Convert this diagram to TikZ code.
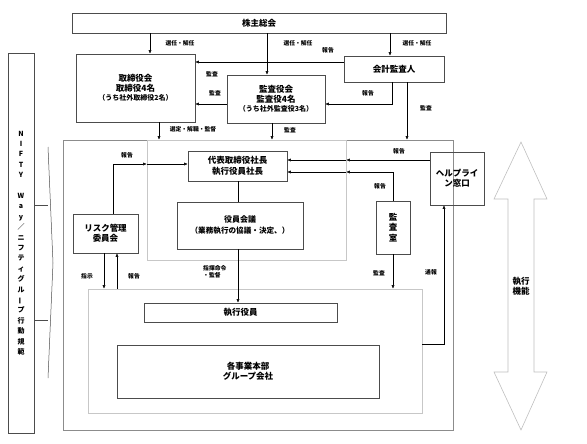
\documentclass[tikz,border=0pt]{standalone}
\usepackage{fontspec}
\setmainfont{Noto Sans CJK JP}
\usetikzlibrary{arrows.meta}
\tikzset{
  box/.style={draw=black!70, line width=0.6pt, inner sep=0pt, align=center, font=\fontsize{8.5}{10}\selectfont\bfseries},
  outerframe/.style={draw=black!45, line width=0.6pt, inner sep=0pt},
  innerframe/.style={draw=black!22, line width=0.6pt, inner sep=0pt},
  lbl/.style={font=\fontsize{5.8}{7}\selectfont\bfseries, inner sep=0pt},
  arr/.style={->, line width=0.5pt}
}
\begin{document}
\begin{tikzpicture}[x=1pt, y=-1pt, >={Latex[length=3.5pt,width=3pt]}]
\useasboundingbox (0,0) rectangle (587,444);
% Draw frames
\node[outerframe, minimum width=390pt, minimum height=290pt] (outer) at (258,285) {};
\node[innerframe, minimum width=199pt, minimum height=120pt] (innertop) at (246.5,200) {};
\node[innerframe, minimum width=334pt, minimum height=124pt] (innerbot) at (255,351) {};
% Draw boxes
\node[box, minimum width=374pt, minimum height=20pt] (soukai) at (259,23) {株主総会};
\node[box, minimum width=119pt, minimum height=68pt, font=\fontsize{8.5}{9.6}\selectfont\bfseries] (torishimari) at (135.5,88)
  {取締役会\\取締役4名\\{\fontsize{7}{9}\selectfont （うち社外取締役2名）}};
\node[box, minimum width=98pt, minimum height=48pt, font=\fontsize{8.5}{9.6}\selectfont\bfseries] (kansayaku) at (276,99)
  {監査役会\\監査役4名\\{\fontsize{7}{9}\selectfont （うち社外監査役3名）}};
\node[box, minimum width=100pt, minimum height=26pt] (kaikei) at (394,69) {会計監査人};
\node[box, minimum width=26pt, minimum height=380pt, font=\fontsize{7}{10.4}\selectfont\bfseries] (nifty) at (21,243)
  {N\\I\\F\\T\\Y\\[10.4pt]W\\a\\y\\／\\ニ\\フ\\テ\\ィ\\グ\\ル\\\rotatebox[origin=c]{90}{ー}\\プ\\行\\動\\規\\範};
\node[box, minimum width=99pt, minimum height=30pt, font=\fontsize{8.5}{11}\selectfont\bfseries] (daihyo) at (237.5,166) {代表取締役社長\\執行役員社長};
\node[box, minimum width=126pt, minimum height=47pt, font=\fontsize{8}{11}\selectfont\bfseries] (kaigi) at (240,225.5) {役員会議\\{\fontsize{7.6}{9}\selectfont （業務執行の協議・決定、）}};
\node[box, minimum width=65pt, minimum height=39pt] (risk) at (105.5,233.5) {リスク管理\\委員会};
\node[box, minimum width=34pt, minimum height=53pt, font=\fontsize{8.5}{10.5}\selectfont\bfseries] (kansashitsu) at (393,227.5) {監\\査\\室};
\node[box, minimum width=54pt, minimum height=53pt] (helpline) at (457,178.5) {ヘルプライ\\ン窓口};
\node[box, minimum width=193pt, minimum height=19pt] (shikko) at (240.5,312.5) {執行役員};
\node[box, minimum width=262pt, minimum height=53pt] (jigyo) at (248,371.5) {各事業本部\\グループ会社};
% Draw big arrow
\draw[draw=black!25, line width=0.6pt] (521,142) -- (547,199) -- (534,199) -- (534,372) -- (547,372) -- (521,430)
  -- (494,372) -- (508,372) -- (508,199) -- (494,199) -- cycle;
\node[box, draw=none] (kinou) at (521,286) {執行\\機能};
% Draw bracket
\coordinate (brtop) at (48,147);
\coordinate (brmid) at (53,263);
\coordinate (brbot) at (48,378);
\draw[black!70, line width=0.5pt] (brtop) -- (brmid) -- (brbot);
\draw[black!70, line width=0.5pt] ([yshift=38pt]nifty.east) -- ([yshift=38pt]nifty.east -| brtop);
\draw[black!70, line width=0.5pt] ([yshift=-77pt]nifty.east) -- ([yshift=-77pt]nifty.east -| brbot);
% Draw arrows from 株主総会
\draw[arr] ([xshift=14.5pt]torishimari.north |- soukai.south) -- ([xshift=14.5pt]torishimari.north);
\draw[arr] ([xshift=-9pt]kansayaku.north |- soukai.south) -- ([xshift=-9pt]kansayaku.north);
\draw[arr] ([xshift=-4pt]kaikei.north |- soukai.south) -- ([xshift=-4pt]kaikei.north);
\node[lbl] (l1) at (180,43) {選任・解任};
\node[lbl] (l2) at (298,43) {選任・解任};
\node[lbl] (l3) at (417,43) {選任・解任};
% Draw audit arrows
\draw[arr] ([yshift=7pt]kaikei.west) -- ([yshift=7pt]kaikei.west -| torishimari.east);
\draw[arr] ([yshift=-5pt]kansayaku.west) -- ([yshift=-5pt]kansayaku.west -| torishimari.east);
\draw[arr] ([xshift=-2pt]kaikei.south) |- ([yshift=-5pt]kansayaku.east);
\draw[arr] ([xshift=13pt]kaikei.south) -- ([xshift=13pt]kaikei.south |- outer.north);
\draw[arr] ([xshift=23.5pt]torishimari.south) -- ([xshift=23.5pt]torishimari.south |- outer.north);
\draw[arr] ([xshift=-4pt]kansayaku.south) -- ([xshift=-4pt]kansayaku.south |- outer.north);
\node[lbl] (l4) at (328,50) {報告};
\node[lbl] (l5) at (212,74) {監査};
\node[lbl] (l6) at (215,93) {監査};
\node[lbl] (l7) at (368,93) {報告};
\node[lbl] (l8) at (426,108) {監査};
\node[lbl] (l9) at (193,129) {選定・解職・監督};
\node[lbl] (l10) at (290,130) {監査};
% Draw report arrows to 代表取締役社長
\draw[arr] ([yshift=18.5pt]helpline.west) -- ([yshift=18.5pt]helpline.west -| innertop.east);
\draw[arr] ([yshift=18.5pt]helpline.west -| innertop.east) -- ([yshift=18.5pt]helpline.west -| daihyo.east);
\draw[arr] (kansashitsu.north) |- ([yshift=-6pt]daihyo.east -| innertop.east);
\draw[arr] ([yshift=-6pt]daihyo.east -| innertop.east) -- ([yshift=-6pt]daihyo.east);
\draw[arr] ([xshift=7.5pt]risk.north) |- ([yshift=2pt]daihyo.west -| innertop.west);
\draw[arr] ([yshift=2pt]daihyo.west -| innertop.west) -- ([yshift=2pt]daihyo.west);
\node[lbl] (l11) at (399,151) {報告};
\node[lbl] (l12) at (380,186) {報告};
\node[lbl] (l13) at (127,155) {報告};
% Draw command arrows
\draw[line width=0.5pt] ([xshift=0.5pt]daihyo.south) -- ([xshift=-2pt]kaigi.north);
\draw[arr] ([xshift=-2pt]kaigi.south) -- ([xshift=-2pt]kaigi.south |- shikko.north);
\draw[arr] ([xshift=-1.5pt]risk.south) -- ([xshift=-1.5pt]risk.south |- innerbot.north);
\draw[arr] ([xshift=11.5pt]risk.south |- innerbot.north) -- ([xshift=11.5pt]risk.south);
\draw[arr] (kansashitsu.south) -- (kansashitsu.south |- innerbot.north);
\draw[arr] ([yshift=7pt]innerbot.east) -| ([xshift=-13pt]helpline.south);
\node[lbl, align=left, anchor=west] (l14) at (203,272) {指揮命令\\・監督};
\node[lbl] (l15) at (87,276) {指示};
\node[lbl] (l16) at (134,276) {報告};
\node[lbl] (l17) at (379,273) {監査};
\node[lbl] (l18) at (431,272) {通報};
\end{tikzpicture}
\end{document}
